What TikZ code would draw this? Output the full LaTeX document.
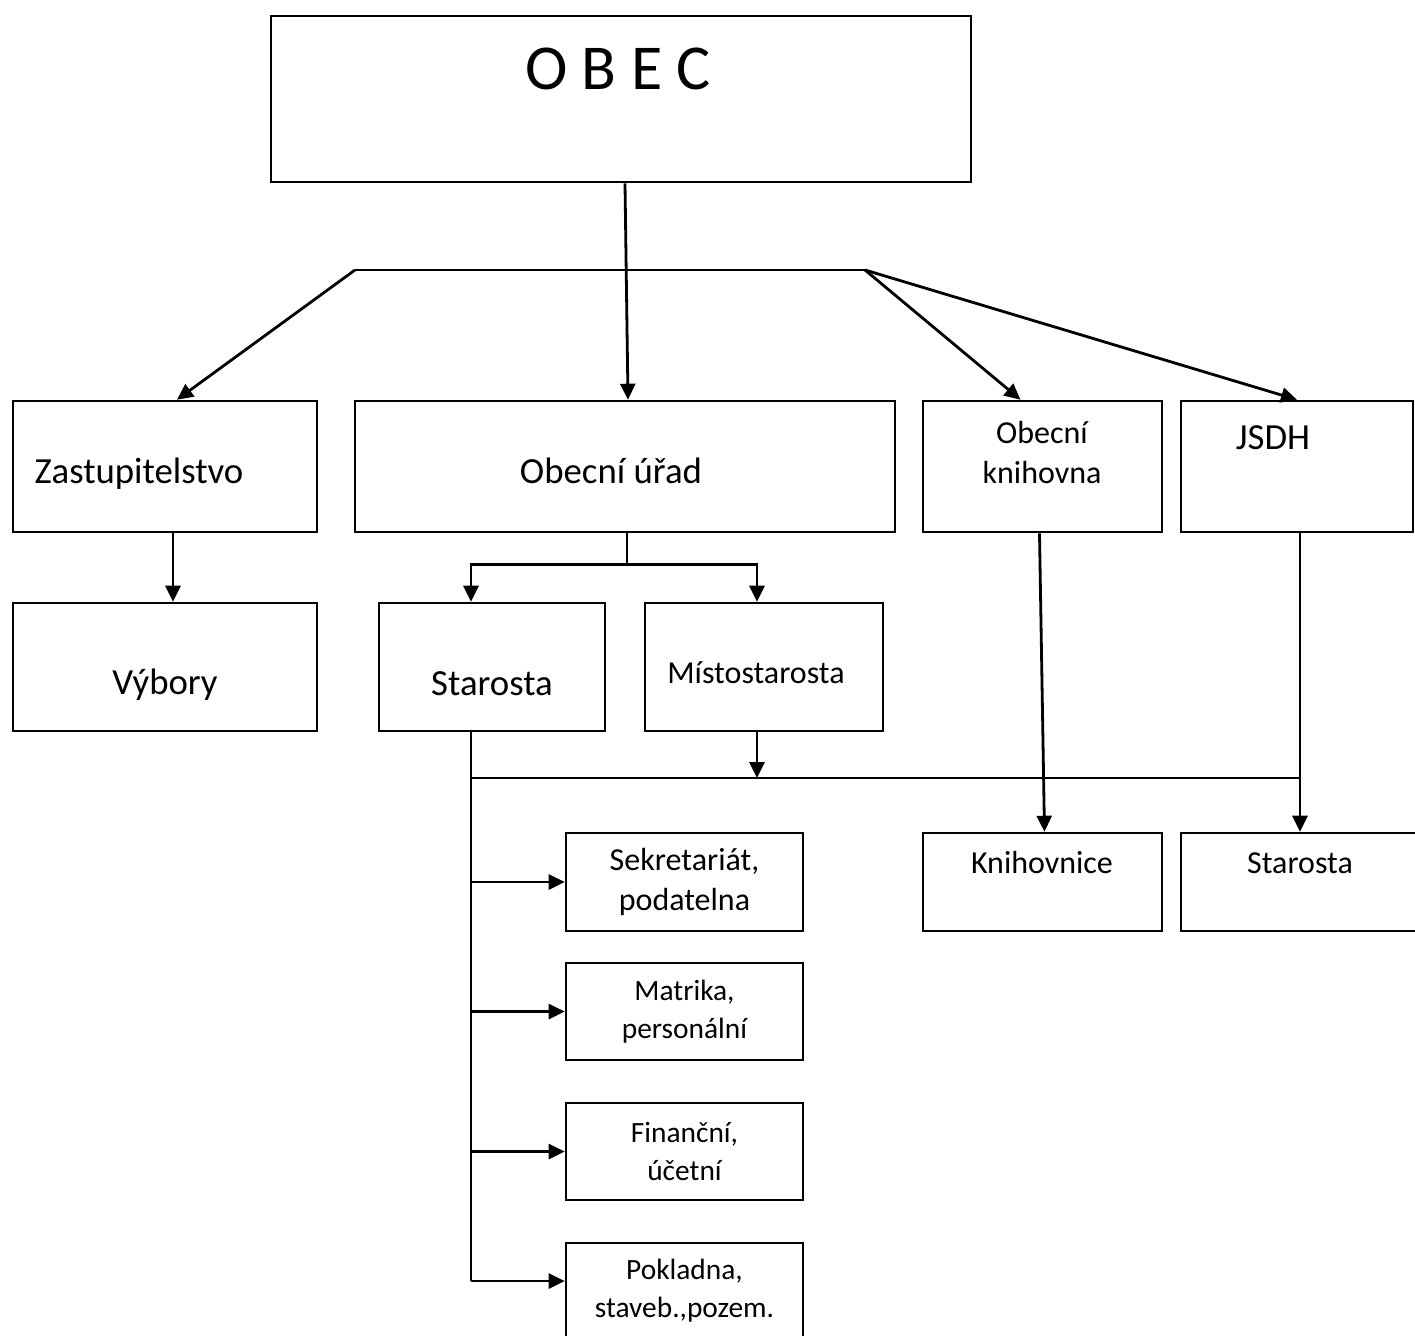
\documentclass[tikz,border=0pt]{standalone}
\usepackage{fontspec}
\setmainfont{Carlito}
\usetikzlibrary{arrows.meta}
\usetikzlibrary{calc}

\tikzset{
	box/.style = {draw, line width=1.3pt, inner sep=0pt},
	conn/.style = {line width=1.4pt},
	arr/.style = {line width=1.4pt, -{Triangle[length=8pt, width=7.5pt]}},
	title/.style = {font=\fontsize{32}{36}\selectfont},
	big/.style = {font=\fontsize{18.4}{22}\selectfont},
	mid/.style = {font=\fontsize{16}{20}\selectfont, align=center},
	small/.style = {font=\fontsize{14.7}{19}\selectfont, align=center},
}

\begin{document}
\begin{tikzpicture}[x=0.5pt, y=-0.5pt]
	\useasboundingbox (0,0) rectangle (1415,1335);

	\node[box, minimum width=350pt, minimum height=83pt] (obec) at (621,99) {};
	\node[title, anchor=base] (obecT) at (618,89) {O B E C};

	\node[box, minimum width=152pt, minimum height=65.5pt] (zast) at (165,466.5) {};
	\node[big, anchor=base] (zastT) at (139,483) {Zastupitelstvo};
	\node[box, minimum width=270pt, minimum height=65.5pt] (urad) at (625,466.5) {};
	\node[big, anchor=base] (uradT) at (611,483) {Obecní úřad};
	\node[box, minimum width=119.5pt, minimum height=65.5pt] (knih) at (1042.5,466.5) {};
	\node[mid] (knihT) at (1042,452) {Obecní\\knihovna};
	\node[box, minimum width=116pt, minimum height=65.5pt] (jsdh) at (1297,466.5) {};
	\node[big, anchor=base] (jsdhT) at (1273,449) {JSDH};

	\node[box, minimum width=152pt, minimum height=64pt] (vybory) at (165,667) {};
	\node[big, anchor=base] (vyboryT) at (165,694) {Výbory};
	\node[box, minimum width=113pt, minimum height=64pt] (starosta) at (492,667) {};
	\node[big, anchor=base] (starostaT) at (492,695) {Starosta};
	\node[box, minimum width=119pt, minimum height=64pt] (mistost) at (764,667) {};
	\node[mid, anchor=base] (mistostT) at (756,683) {Místostarosta};

	\node[box, mid, minimum width=118.5pt, minimum height=49pt] (sekr) at (684.5,882) {Sekretariát,\\podatelna};
	\node[box, small, minimum width=118.5pt, minimum height=48.5pt] (matrika) at (684.5,1011.5) {Matrika,\\personální};
	\node[box, small, minimum width=118.5pt, minimum height=48.5pt] (financni) at (684.5,1151.5) {Finanční,\\účetní};
	\node[box, small, minimum width=118.5pt, minimum height=48pt] (pokladna) at (684.5,1291) {Pokladna,\\staveb.,pozem.};

	\node[box, minimum width=119.5pt, minimum height=49pt] (knihovnice) at (1042.5,882) {};
	\node[mid, anchor=base] (knihovniceT) at (1042,873) {Knihovnice};
	\node[box, minimum width=129.5pt, minimum height=49pt] (starosta2) at (1310.5,882) {};
	\node[mid, anchor=base] (starosta2T) at (1300,873) {Starosta};

	\coordinate (split) at (355,270);
	\coordinate (fork) at (865,270);
	\coordinate (trunk) at ($(starosta.south)+(-21,0)$);
	\coordinate (mistdown) at ($(mistost.south)+(-7,0)$);
	\coordinate (bus) at (0,778);
	\coordinate (pokl) at (0,1281);

	\draw[arr] ($(obec.south)+(4,0)$) -- ($(urad.north)+(3,0)$);
	\draw[conn] (split) -- (fork);
	\draw[arr] (split) -- ($(zast.north)+(12,0)$);
	\draw[arr] (fork) -- ($(knih.north)+(-22,0)$);
	\draw[arr] (fork) -- (jsdh.north);
	\draw[arr] ($(zast.south)+(8,0)$) -- ($(vybory.north)+(8,0)$);

	\draw[conn] ($(urad.south)+(2,0)$) -- ++(0,31) coordinate (uradfork);
	\draw[arr] (uradfork) -| ($(starosta.north)+(-21,0)$);
	\draw[arr] (uradfork) -| (mistdown |- mistost.north);
	\draw[arr] (mistdown) -- (mistdown |- bus);

	\draw[conn] (trunk) -- (trunk |- pokl);
	\draw[conn] (trunk |- bus) -- ($(jsdh.south |- bus)+(3,0)$);
	\draw[arr] (trunk |- sekr.west) -- (sekr.west);
	\draw[arr] (trunk |- matrika.west) -- (matrika.west);
	\draw[arr] (trunk |- financni.west) -- (financni.west);
	\draw[arr] (trunk |- pokl) -- (pokladna.west |- pokl);

	\draw[arr] ($(knih.south)+(-3,0)$) -- ($(knihovnice.north)+(2,0)$);
	\draw[arr] ($(jsdh.south)+(3,0)$) -- ($(jsdh.south |- starosta2.north)+(3,0)$);
\end{tikzpicture}
\end{document}
